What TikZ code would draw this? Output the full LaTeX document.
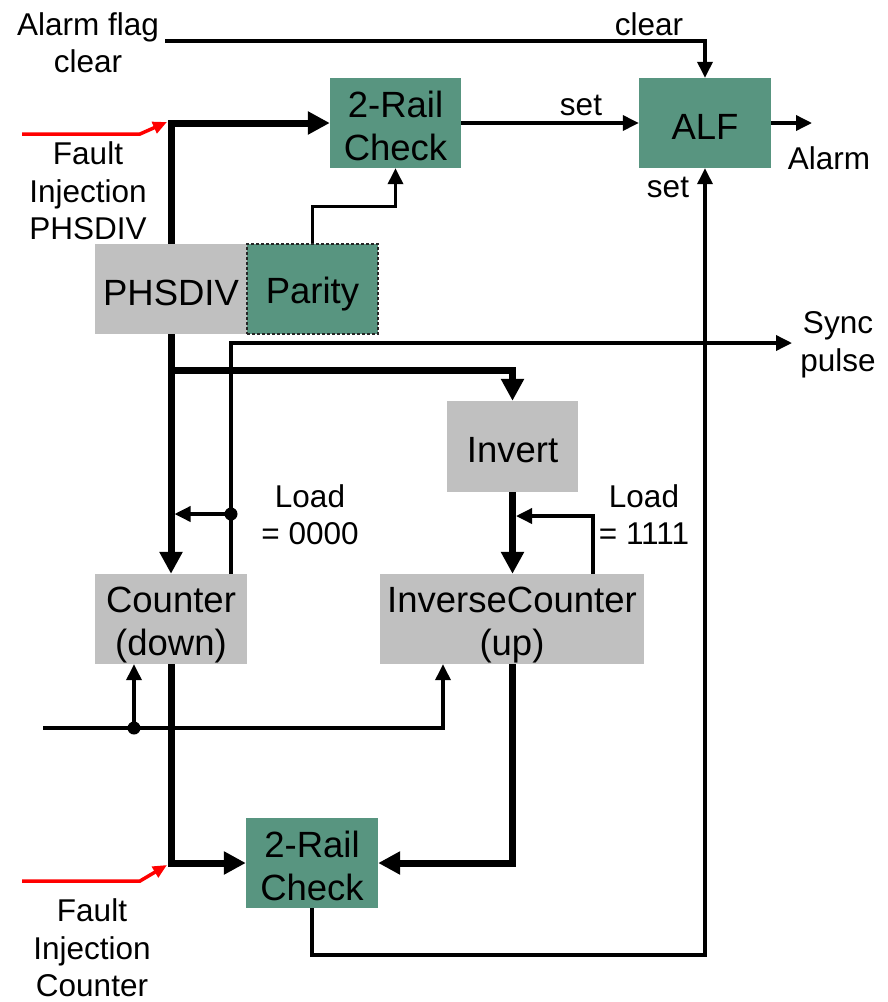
\documentclass[tikz,border=0pt]{standalone}
\usepackage{fontspec}
\setmainfont{Liberation Sans}
\usetikzlibrary{arrows.meta}
\definecolor{grn}{RGB}{88,149,128}
\definecolor{gry}{RGB}{192,192,192}
\newcommand{\blkstrut}{\vrule height 37.5pt depth 5.5pt width 0pt}
\begin{document}
\begin{tikzpicture}[x=1pt,y=-1pt,
  blk/.style={inner sep=0pt, font=\fontsize{36.5}{43}\selectfont, align=center},
  gbox/.style={blk, fill=grn},
  gybox/.style={blk, fill=gry},
  lbl/.style={inner sep=0pt, font=\fontsize{31.5}{37.5}\selectfont, align=center},
  bus/.style={line width=7pt},
  wire/.style={line width=3.5pt},
  bt/.style={-{Triangle[length=22pt,width=22pt]}},
  wt/.style={-{Triangle[length=16pt,width=15pt]}},
  fault/.style={draw=red, line width=3.5pt, -{Triangle[length=14pt,width=12pt]}},
  dot/.style={circle, fill=black, inner sep=0pt, minimum size=13pt}
]
\useasboundingbox (0,0) rectangle (888,1002);

% blocks
\node[gbox, minimum width=131pt, minimum height=90pt] (rc1) at (395.5,123) {\blkstrut 2-Rail\\\blkstrut Check};
\node[gbox, minimum width=132pt, minimum height=90pt] (alf) at (705,123) {\blkstrut ALF};
\node[gybox, minimum width=152pt, minimum height=90pt] (phs) at (171,289) {\blkstrut PHSDIV};
\node[gbox, minimum width=131pt, minimum height=90pt, draw=black!85, line width=1.2pt, dash pattern=on 3pt off 2pt] (par) at (312.5,289) {\blkstrut Parity};
\node[gybox, minimum width=131pt, minimum height=91pt] (inv) at (512.5,446.5) {\blkstrut Invert};
\node[gybox, minimum width=152pt, minimum height=90pt] (cnt) at (171,619) {\blkstrut Counter\\\blkstrut (down)};
\node[gybox, minimum width=264pt, minimum height=90pt] (icnt) at (512,619) {\blkstrut InverseCounter\\\blkstrut (up)};
\node[gbox, minimum width=132pt, minimum height=90pt] (rc2) at (312,863) {\blkstrut 2-Rail\\\blkstrut Check};

% labels
\node[lbl] (lafc) at (88,42.5) {Alarm flag\\clear};
\node[lbl] (lclr) at (649,24) {clear};
\node[lbl] (lset1) at (581,105) {set};
\node[lbl] (lset2) at (668,187) {set};
\node[lbl] (lalarm) at (829,158) {Alarm};
\node[lbl] (lfi1) at (88,191) {Fault\\Injection\\PHSDIV};
\node[lbl] (lsync) at (838,345) {Sync\\pulse};
\node[lbl] (lld0) at (310,514.5) {Load\\= 0000};
\node[lbl] (lld1) at (644,514.5) {Load\\= 1111};
\node[lbl] (lfi2) at (92,948) {Fault\\Injection\\Counter};

% coordinates
\coordinate (c0) at (165,41);
\coordinate (j2) at (171,370);
\coordinate (s0) at (231,343);
\coordinate (sp) at (792,343);
\coordinate (l1) at (593,516);
\coordinate (i0) at (43,728);
\coordinate (i1) at (443,728);
\coordinate (b1) at (705,955);
\coordinate (ao) at (812,123);
\coordinate (f1a) at (22,134);
\coordinate (f1b) at (140,134);
\coordinate (f1c) at (167,122);
\coordinate (f2a) at (22,881);
\coordinate (f2b) at (140,881);
\coordinate (f2c) at (167,865);

% bus connections
\draw[bus,bt] (phs.north) |- (rc1.west);
\draw[bus,bt] (phs.south) -- (cnt.north);
\draw[bus,bt] (j2) -| (inv.north);
\draw[bus,bt] (inv.south) -- (inv.south |- icnt.north);
\draw[bus,bt] (inv.south |- icnt.south) |- (rc2.east);
\draw[bus,bt] (cnt.south) |- (rc2.west);

% fault injection
\draw[fault] (f1a) -- (f1b) -- (f1c);
\draw[fault] (f2a) -- (f2b) -- (f2c);

% thin wires
\draw[wire,wt] (c0) -| (alf.north);
\draw[wire,wt] (rc1.east) -- (alf.west);
\draw[wire,wt] (alf.east) -- (ao);
\draw[wire,wt] (par.north) -- ++(0,-37) -| (rc1.south);
\draw[wire,wt] (cnt.north -| s0) |- (sp);
\node[dot] (d1) at (231,514) {};
\draw[wire,wt,shorten >=3.5pt] (d1.center) -- (cnt.north |- d1.center);
\draw[wire,wt,shorten >=3.5pt] (icnt.north -| l1) |- (inv.south |- l1);
\draw[wire,wt] (i0) -- (i1) -- (icnt.south -| i1);
\node[dot] (d2) at (134,728) {};
\draw[wire,wt] (d2.center) -- (cnt.south -| d2.center);
\draw[wire,wt] (rc2.south) |- (b1) -- (alf.south);
\end{tikzpicture}
\end{document}
